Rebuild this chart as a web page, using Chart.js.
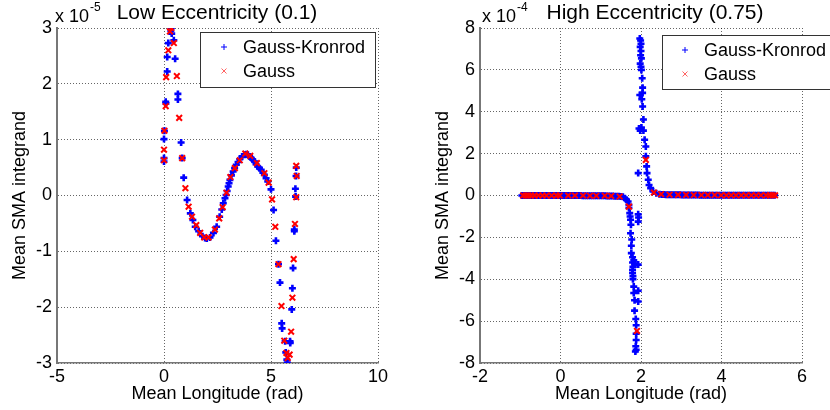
<!DOCTYPE html>
<html>
<head>
<meta charset="utf-8">
<script src="https://cdn.jsdelivr.net/npm/chart.js@4/dist/chart.umd.min.js"></script>
<style>
  html, body { margin: 0; padding: 0; background: #fff; }
  #wrap { position: relative; width: 830px; height: 410px; overflow: hidden; }
  .pane { position: absolute; top: 0; width: 415px; height: 410px; }
  #p1 { left: 0; }
  #p2 { left: 415px; }
</style>
</head>
<body>
<div id="wrap">
  <div class="pane" id="p1"><canvas id="c1" width="415" height="410"></canvas></div>
  <div class="pane" id="p2"><canvas id="c2" width="415" height="410"></canvas></div>
</div>
<script>
// ---------- DATA (values in units of 1e-5 for the left panel, 1e-4 for the right) ----------
const seriesNames = ['Gauss-Kronrod', 'Gauss'];
const xAxisTitle = 'Mean Longitude (rad)';
const yAxisTitle = 'Mean SMA integrand';

// Left panel: Low Eccentricity (0.1)
const lowTitle = 'Low Eccentricity (0.1)';
const lowExponent = '-5';
const lowXTicks = [-5, 0, 5, 10];
const lowYTicks = [-3, -2, -1, 0, 1, 2, 3];
const lowGKx = [0.00,0.00,0.00,0.02,0.08,0.09,0.15,0.15,0.20,0.32,0.34,0.36,0.46,0.52,0.65,0.65,0.80,0.85,0.92,1.08,1.23,1.35,1.46,1.62,1.80,1.92,2.00,2.15,2.31,2.46,2.60,2.70,2.77,2.85,2.90,2.95,3.00,3.04,3.08,3.15,3.23,3.30,3.38,3.46,3.54,3.65,3.77,3.85,3.92,4.00,4.08,4.15,4.23,4.30,4.38,4.46,4.54,4.62,4.69,4.77,4.85,5.00,5.12,5.23,5.35,5.42,5.50,5.52,5.66,5.69,5.74,5.76,5.89,5.90,5.97,6.00,6.03,6.09,6.09,6.14,6.15,6.17,6.18];
const lowGKy = [1.01,0.67,0.61,1.16,1.68,1.65,2.22,2.48,2.73,2.95,3.00,2.90,2.78,2.45,1.82,1.72,0.95,0.67,0.32,-0.08,-0.32,-0.44,-0.56,-0.64,-0.73,-0.76,-0.77,-0.75,-0.67,-0.56,-0.38,-0.25,-0.14,-0.05,0.01,0.08,0.16,0.22,0.28,0.36,0.43,0.49,0.55,0.60,0.65,0.70,0.73,0.74,0.73,0.70,0.67,0.64,0.61,0.56,0.52,0.49,0.46,0.41,0.37,0.31,0.25,0.11,-0.26,-0.81,-1.23,-1.56,-2.29,-2.38,-2.61,-2.81,-2.94,-2.99,-2.61,-2.64,-2.04,-1.66,-1.30,-0.61,-0.64,0.12,-0.02,0.35,0.50];
const lowGx = [0.00,0.00,0.02,0.08,0.10,0.20,0.28,0.34,0.46,0.60,0.71,0.85,1.00,1.15,1.31,1.51,1.69,1.88,2.08,2.38,2.58,2.74,2.92,3.10,3.31,3.54,3.80,4.03,4.34,4.69,4.89,5.05,5.20,5.35,5.49,5.62,5.72,5.78,5.87,5.94,6.00,6.06,6.12,6.18,6.18,6.20];
const lowGy = [0.82,0.63,1.16,1.60,2.12,2.60,2.94,3.00,2.73,2.14,1.39,0.67,0.13,-0.20,-0.38,-0.53,-0.67,-0.75,-0.75,-0.61,-0.41,-0.21,0.05,0.33,0.49,0.63,0.75,0.71,0.58,0.40,0.23,-0.07,-0.56,-1.23,-1.98,-2.60,-2.82,-2.91,-2.85,-2.44,-1.83,-1.14,-0.51,-0.03,0.53,0.35];

// Right panel: High Eccentricity (0.75)
const highTitle = 'High Eccentricity (0.75)';
const highExponent = '-4';
const highXTicks = [-2, 0, 2, 4, 6];
const highYTicks = [-8, -6, -4, -2, 0, 2, 4, 6, 8];
const highGKx = [-0.96,-0.92,-0.88,-0.84,-0.80,-0.76,-0.72,-0.68,-0.64,-0.60,-0.55,-0.50,-0.45,-0.40,-0.35,-0.30,-0.25,-0.20,-0.15,-0.10,-0.05,0.00,0.05,0.10,0.15,0.20,0.25,0.30,0.35,0.40,0.45,0.50,0.55,0.60,0.65,0.70,0.75,0.80,0.85,0.90,0.95,1.00,1.05,1.10,1.15,1.20,1.25,1.30,1.35,1.40,1.45,1.50,
  1.55,1.60,1.64,1.68,1.70,1.70,1.72,1.73,1.74,1.75,1.74,1.77,1.76,1.76,1.79,1.79,1.80,1.79,1.79,1.80,1.80,1.82,1.82,1.84,1.84,1.87,1.88,1.88,1.88,1.87,1.88,1.86,1.93,1.94,1.93,1.93,1.93,1.93,1.82,1.84,1.86,
  1.97,1.99,2.00,1.98,2.00,1.99,2.01,1.98,2.00,2.01,2.03,2.04,2.04,1.97,2.02,2.04,2.06,1.95,1.98,2.01,2.06,2.09,2.12,2.12,2.14,2.15,1.93,2.18,2.20,2.24,2.30,2.38,2.46,
  2.52,2.57,2.62,2.67,2.72,2.77,2.82,2.87,2.92,2.97,3.02,3.07,3.12,3.17,3.22,3.27,3.32,3.37,3.42,3.47,3.52,3.57,3.62,3.67,3.72,3.77,3.82,3.87,3.92,3.97,4.02,4.07,4.12,4.17,4.22,4.27,4.32,4.37,4.42,4.47,4.52,4.57,4.62,4.67,4.72,4.77,4.82,4.87,4.92,4.97,5.02,5.07,5.12,5.17,5.22,5.27,5.32,5.36];
const highGKy = [0.00,0.00,0.00,0.00,0.00,0.00,0.00,0.00,0.00,0.00,0.00,0.00,0.00,0.00,0.00,0.00,0.00,0.00,0.00,0.00,0.00,0.00,0.00,0.00,0.00,0.00,0.00,0.00,0.00,0.00,0.00,0.00,-0.01,-0.01,-0.01,-0.01,-0.01,-0.01,-0.01,-0.01,-0.01,-0.01,-0.01,-0.01,-0.02,-0.02,-0.02,-0.02,-0.03,-0.03,-0.04,-0.05,
  -0.06,-0.13,-0.20,-0.29,-0.45,-0.60,-0.84,-1.00,-1.16,-1.40,-1.80,-2.10,-2.40,-2.75,-2.95,-3.20,-3.40,-3.55,-3.70,-3.85,-4.00,-4.35,-4.66,-5.00,-5.50,-5.90,-6.20,-6.60,-6.90,-7.20,-7.37,-7.45,-0.90,-1.05,-1.25,-3.30,-4.55,-5.06,-3.10,-3.25,-3.30,
  7.50,7.40,7.25,7.10,6.90,6.70,6.55,6.30,6.15,6.00,5.60,5.15,4.90,4.80,4.60,4.25,3.63,3.20,3.10,3.25,3.10,2.66,2.34,1.87,1.39,1.07,1.07,0.75,0.50,0.35,0.19,0.11,0.06,
  0.05,0.05,0.04,0.04,0.04,0.03,0.03,0.03,0.03,0.03,0.02,0.02,0.02,0.02,0.02,0.02,0.02,0.02,0.02,0.01,0.01,0.01,0.01,0.01,0.01,0.01,0.01,0.01,0.01,0.01,0.01,0.01,0.01,0.01,0.01,0.01,0.01,0.01,0.01,0.01,0.01,0.01,0.01,0.01,0.01,0.01,0.01,0.01,0.01,0.01,0.01,0.01,0.01,0.01,0.01,0.01,0.01];
const highGx = [-0.93,-0.86,-0.80,-0.73,-0.64,-0.55,-0.45,-0.35,-0.22,-0.10,-0.02,0.19,0.36,0.56,0.73,0.89,1.10,1.26,1.47,1.70,1.90,2.12,2.32,2.50,2.71,2.92,3.12,3.31,3.50,3.66,3.83,3.99,4.12,4.24,4.36,4.49,4.61,4.74,4.86,4.98,5.11,5.20,5.27,5.33];
const highGy = [0.00,0.00,0.00,0.00,0.00,0.00,0.00,0.00,0.00,0.00,0.00,0.00,0.00,0.00,-0.01,-0.01,-0.01,-0.02,-0.05,-0.53,-6.47,1.70,0.14,0.06,0.04,0.03,0.03,0.02,0.02,0.02,0.02,0.01,0.01,0.01,0.01,0.01,0.01,0.01,0.01,0.01,0.01,0.01,0.01,0.01];

// ---------- STYLE / RENDERING ----------
const FONT = "'Liberation Sans', Arial, Helvetica, sans-serif";
const zip = (xs, ys) => xs.map((x, i) => ({x: x, y: ys[i]}));

const decor = {
  id: 'decor',
  afterDraw(chart, args, o) {
    const ctx = chart.ctx;
    ctx.save();
    ctx.fillStyle = '#000';
    // title
    ctx.font = '21px ' + FONT;
    ctx.textAlign = 'center';
    ctx.textBaseline = 'alphabetic';
    ctx.fillText(o.title, o.titleX, 19);
    // exponent label "x 10^n"
    ctx.textAlign = 'left';
    ctx.font = '18px ' + FONT;
    ctx.fillText('x 10', o.expX, 22);
    const w = ctx.measureText('x 10').width;
    ctx.font = '12px ' + FONT;
    ctx.fillText(o.exp, o.expX + w + 1, 11);
    // legend box
    const L = o.legend;
    ctx.fillStyle = '#fff';
    ctx.fillRect(L.x, L.y, L.w, L.h);
    ctx.strokeStyle = '#333';
    ctx.lineWidth = 1;
    ctx.strokeRect(L.x + 0.5, L.y + 0.5, L.w, L.h);
    // markers
    ctx.lineWidth = 1;
    ctx.strokeStyle = '#0000ff';
    ctx.beginPath();
    ctx.moveTo(L.mx - 3, L.r1); ctx.lineTo(L.mx + 3, L.r1);
    ctx.moveTo(L.mx, L.r1 - 3); ctx.lineTo(L.mx, L.r1 + 3);
    ctx.stroke();
    ctx.strokeStyle = 'rgba(255,60,60,0.8)';
    ctx.beginPath();
    ctx.moveTo(L.mx - 2.5, L.r2 - 2.5); ctx.lineTo(L.mx + 2.5, L.r2 + 2.5);
    ctx.moveTo(L.mx + 2.5, L.r2 - 2.5); ctx.lineTo(L.mx - 2.5, L.r2 + 2.5);
    ctx.stroke();
    ctx.fillStyle = '#000';
    ctx.font = '18px ' + FONT;
    ctx.textBaseline = 'middle';
    ctx.fillText(seriesNames[0], L.tx, L.r1 + 1);
    ctx.fillText(seriesNames[1], L.tx, L.r2 + 1);
    ctx.restore();
  }
};

function makeChart(id, cfg) {
  const tickFont = {family: FONT, size: 18};
  new Chart(document.getElementById(id), {
    type: 'scatter',
    data: {
      datasets: [
        {label: seriesNames[0], data: cfg.gk, pointStyle: 'cross', pointRadius: 3.5,
         pointBorderWidth: 2.6, borderColor: '#0000ff', backgroundColor: '#0000ff', order: 2},
        {label: seriesNames[1], data: cfg.g, pointStyle: 'crossRot', pointRadius: 4,
         pointBorderWidth: 2, borderColor: '#ff0000', backgroundColor: '#ff0000', order: 1}
      ]
    },
    options: {
      responsive: false,
      animation: false,
      events: [],
      layout: {padding: {top: 28, right: cfg.padRight, left: 0, bottom: 0}},
      plugins: {
        legend: {display: false},
        tooltip: {enabled: false},
        decor: cfg.decor
      },
      scales: {
        x: {
          type: 'linear',
          min: cfg.xTicks[0], max: cfg.xTicks[cfg.xTicks.length - 1],
          afterBuildTicks: s => { s.ticks = cfg.xTicks.map(v => ({value: v})); },
          ticks: {color: '#000', font: tickFont, padding: 3, maxRotation: 0, autoSkip: false},
          grid: {color: 'rgba(0,0,0,0.6)', lineWidth: 1, drawTicks: false},
          border: {display: true, color: '#777', width: 1.5, dash: [1, 2]},
          title: {display: true, text: xAxisTitle, color: '#000', font: tickFont, padding: {top: 0, bottom: 5}},
          afterFit: s => { s.height = 47; }
        },
        y: {
          type: 'linear',
          min: cfg.yTicks[0], max: cfg.yTicks[cfg.yTicks.length - 1],
          afterBuildTicks: s => { s.ticks = cfg.yTicks.map(v => ({value: v})); },
          ticks: {color: '#000', font: tickFont, padding: 5, autoSkip: false},
          grid: {color: 'rgba(0,0,0,0.6)', lineWidth: 1, drawTicks: false},
          border: {display: true, color: '#777', width: 2, dash: [1, 2]},
          title: {display: true, text: yAxisTitle, color: '#000', font: tickFont, padding: {top: cfg.yTitlePad, bottom: 0}},
          afterFit: s => { s.width = cfg.yWidth; }
        }
      }
    },
    plugins: [decor]
  });
}

makeChart('c1', {
  gk: zip(lowGKx, lowGKy), g: zip(lowGx, lowGy),
  xTicks: lowXTicks, yTicks: lowYTicks,
  padRight: 37, yWidth: 57, yTitlePad: 9,
  decor: {title: lowTitle, titleX: 217, exp: lowExponent, expX: 55,
          legend: {x: 200, y: 32, w: 175, h: 55, mx: 224, r1: 47, r2: 71, tx: 243}}
});
makeChart('c2', {
  gk: zip(highGKx, highGKy), g: zip(highGx, highGy),
  xTicks: highXTicks, yTicks: highYTicks,
  padRight: 28, yWidth: 65, yTitlePad: 17,
  decor: {title: highTitle, titleX: 240, exp: highExponent, expX: 67,
          legend: {x: 247, y: 35, w: 180, h: 54, mx: 270, r1: 50, r2: 74, tx: 289}}
});
</script>
</body>
</html>
